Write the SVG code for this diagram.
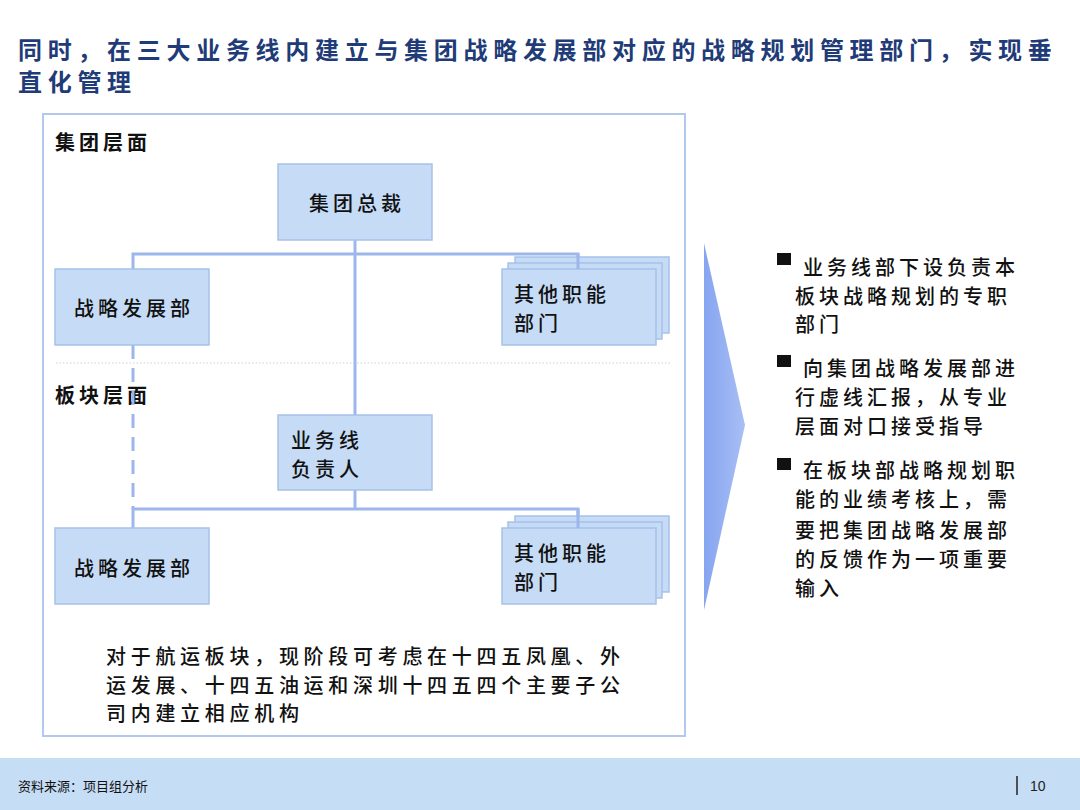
<svg xmlns="http://www.w3.org/2000/svg" width="1080" height="810" viewBox="0 0 1080 810">
<defs>
<style>
.t{font-family:"Noto Sans CJK SC","Noto Sans",sans-serif;fill:#111;}
.title{font-size:24px;font-weight:bold;fill:#1f3b78;letter-spacing:5.7px;}
.lvl{font-size:20px;font-weight:bold;letter-spacing:4px;}
.bx{font-size:20px;font-weight:500;letter-spacing:4px;}
.body{font-size:20px;font-weight:500;letter-spacing:4px;}
.note{letter-spacing:4.7px;}
.box{fill:#c6dbf5;stroke:#a6c1ea;stroke-width:1.5;}
.conn{stroke:#9db7ec;stroke-width:3;fill:none;}
</style>
<linearGradient id="tri" x1="0" y1="0" x2="1" y2="0">
<stop offset="0" stop-color="#86a5f0"/>
<stop offset="1" stop-color="#a8bff5"/>
</linearGradient>
</defs>
<rect width="1080" height="810" fill="#fff"/>
<g id="title">
<text class="t title" x="18" y="59">同时，在三大业务线内建立与集团战略发展部对应的战略规划管理部门，实现垂</text>
<text class="t title" x="18" y="91">直化管理</text>
</g>
<rect id="frame" x="43" y="114" width="642" height="622" fill="none" stroke="#b3c9ec" stroke-width="2"/>
<line x1="56" y1="363" x2="672" y2="363" stroke="#cfcfcf" stroke-width="1" stroke-dasharray="1.5 2"/>
<text class="t lvl" x="55" y="150">集团层面</text>
<text class="t lvl" x="55" y="403">板块层面</text>
<g id="connectors">
<polyline class="conn" points="133,269 133,254 578,254 578,269"/>
<line class="conn" x1="355" y1="240" x2="355" y2="415"/>
<polyline class="conn" points="133,528 133,509 578,509 578,528"/>
<line class="conn" x1="355" y1="490" x2="355" y2="509"/>
<line class="conn" x1="133" y1="345" x2="133" y2="509" stroke-dasharray="14 9"/>
</g>
<g id="n-president">
<rect class="box" x="278" y="164" width="154" height="76"/>
<text class="t bx" x="309" y="211">集团总裁</text>
</g>
<g id="n-strategy-top">
<rect class="box" x="55" y="269" width="154" height="76"/>
<text class="t bx" x="74" y="316">战略发展部</text>
</g>
<g id="n-other-top">
<rect class="box" x="515" y="257" width="154" height="76"/>
<rect class="box" x="508" y="263" width="154" height="76"/>
<rect class="box" x="502" y="269" width="154" height="76"/>
<line class="conn" x1="578" y1="254" x2="578" y2="269"/>
<text class="t bx" x="514" y="302">其他职能</text>
<text class="t bx" x="514" y="331">部门</text>
</g>
<g id="n-bizlead">
<rect class="box" x="278" y="415" width="154" height="75"/>
<text class="t bx" x="291" y="448">业务线</text>
<text class="t bx" x="291" y="477">负责人</text>
</g>
<g id="n-strategy-bot">
<rect class="box" x="55" y="528" width="154" height="76"/>
<text class="t bx" x="74" y="576">战略发展部</text>
</g>
<g id="n-other-bot">
<rect class="box" x="515" y="516" width="154" height="76"/>
<rect class="box" x="508" y="522" width="154" height="76"/>
<rect class="box" x="502" y="528" width="154" height="76"/>
<line class="conn" x1="578" y1="509" x2="578" y2="528"/>
<text class="t bx" x="514" y="561">其他职能</text>
<text class="t bx" x="514" y="590">部门</text>
</g>
<g id="note">
<text class="t body note" x="106" y="664">对于航运板块，现阶段可考虑在十四五凤凰、外</text>
<text class="t body note" x="106" y="693">运发展、十四五油运和深圳十四五四个主要子公</text>
<text class="t body note" x="106" y="721">司内建立相应机构</text>
</g>
<polygon id="arrow" points="704,243 745,425 704,610" fill="url(#tri)"/>
<g id="bullets">
<rect x="777" y="253" width="14" height="12" fill="#111"/>
<text class="t body" x="803" y="275">业务线部下设负责本</text>
<text class="t body" x="795" y="304">板块战略规划的专职</text>
<text class="t body" x="795" y="332">部门</text>
<rect x="777" y="355" width="14" height="12" fill="#111"/>
<text class="t body" x="803" y="376">向集团战略发展部进</text>
<text class="t body" x="795" y="405">行虚线汇报，从专业</text>
<text class="t body" x="795" y="434">层面对口接受指导</text>
<rect x="777" y="458" width="14" height="12" fill="#111"/>
<text class="t body" x="803" y="478">在板块部战略规划职</text>
<text class="t body" x="795" y="507">能的业绩考核上，需</text>
<text class="t body" x="795" y="538">要把集团战略发展部</text>
<text class="t body" x="795" y="567">的反馈作为一项重要</text>
<text class="t body" x="795" y="596">输入</text>
</g>
<g id="footer">
<rect x="0" y="758" width="1080" height="52" fill="#c6ddf6"/>
<text class="t" x="18" y="791" font-size="13">资料来源：项目组分析</text>
<line x1="1017" y1="776" x2="1017" y2="795" stroke="#222" stroke-width="1.5"/>
<text x="1030" y="791" font-family="Liberation Sans, sans-serif" font-size="14" fill="#222">10</text>
</g>
</svg>
